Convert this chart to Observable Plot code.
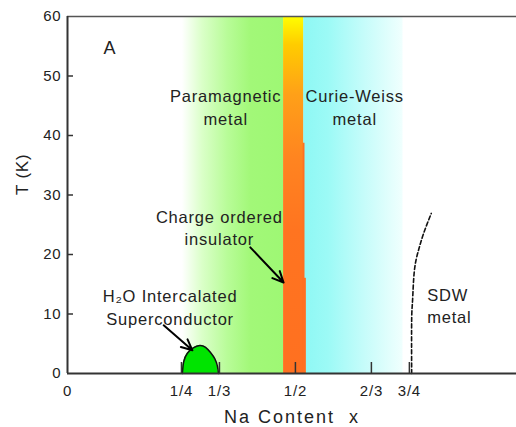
<!DOCTYPE html>
<html>
<head>
<meta charset="utf-8">
<script src="https://cdn.jsdelivr.net/npm/d3@7"></script>
<script src="https://cdn.jsdelivr.net/npm/@observablehq/plot@0.6"></script>
<style>
  html, body { margin: 0; padding: 0; background: white; }
</style>
</head>
<body>
<div id="chart"></div>
<script>
// ---- data ----
const xTicks = [0, 1/4, 1/3, 1/2, 2/3, 3/4];
const xTickLabels = ["0", "1/4", "1/3", "1/2", "2/3", "3/4"];
const xTickMarks = [1/4, 1/3, 1/2, 2/3, 3/4];
const yTicks = [0, 10, 20, 30, 40, 50, 60];
const yTickMarks = [10, 20, 30, 40, 50];

// phase regions (Na content x, temperature T)
const regionName = ["Paramagnetic", "Curie-Weiss", "Charge ordered", "CO step 1", "CO step 2"];
const regionX1 = [0.252, 0.518, 0.474, 0.517, 0.517];
const regionX2 = [0.474, 0.736, 0.518, 0.521, 0.524];
const regionT1 = [0, 0, 0, 0, 0];
const regionT2 = [60, 60, 60, 38.7, 16];
const regionFill = ["url(#gPara)", "url(#gCW)", "url(#gCO)", "#ff7020", "#ff7020"];

// superconducting dome
const domeX = [0.252, 0.255, 0.263, 0.276, 0.290, 0.303, 0.314, 0.323, 0.329, 0.331];
const domeT = [0, 2.0, 3.4, 4.3, 4.7, 4.4, 3.5, 2.5, 1.2, 0];

// SDW boundary (dashed)
const sdwX = [0.755, 0.755, 0.757, 0.761, 0.770, 0.781, 0.798];
const sdwT = [0, 8.9, 12.3, 17.3, 20.7, 23.5, 26.9];

// text labels
const labelText = ["Paramagnetic\nmetal", "Curie-Weiss\nmetal", "Charge ordered\ninsulator",
                   "H\u2082O Intercalated\nSuperconductor", "SDW\nmetal"];
const labelX = [0.347, 0.630, 0.333, 0.225, 0.789];
const labelT = [44.9, 44.9, 24.6, 11.3, 11.5];
const labelAnchor = ["middle", "middle", "middle", "middle", "start"];

// arrows
const arrowX1 = [0.401, 0.211];
const arrowT1 = [21.2, 8.1];
const arrowX2 = [0.474, 0.274];
const arrowT2 = [15.3, 3.9];

// ---- build tables ----
const regions = regionName.map((n, i) => ({n, x1: regionX1[i], x2: regionX2[i], t1: regionT1[i], t2: regionT2[i], fill: regionFill[i]}));
const dome = domeX.map((x, i) => ({x, t: domeT[i]}));
const sdw = sdwX.map((x, i) => ({x, t: sdwT[i]}));
const labels = labelText.map((s, i) => ({s, x: labelX[i], t: labelT[i], a: labelAnchor[i]}));
const arrows = arrowX1.map((x, i) => ({x1: x, t1: arrowT1[i], x2: arrowX2[i], t2: arrowT2[i]}));

const W = 516, H = 427, ML = 67, MR = 0, MT = 16, MB = 54;
const axisColor = "#333";

const svg = Plot.plot({
  width: W, height: H,
  marginLeft: ML, marginRight: MR, marginTop: MT, marginBottom: MB,
  style: {fontFamily: "'Liberation Sans', Arial, sans-serif", fontSize: "16px", color: "#222", background: "white", overflow: "visible"},
  x: {domain: [0, 0.985], axis: null},
  y: {domain: [0, 60], axis: null},
  marks: [
    ...regions.map(r => Plot.rect([r], {x1: "x1", x2: "x2", y1: "t1", y2: "t2", fill: r.fill})),
    Plot.areaY(dome, {x: "x", y: "t", curve: "natural", fill: "#00e400"}),
    Plot.line(dome, {x: "x", y: "t", curve: "natural", stroke: "#111", strokeWidth: 1.5}),
    Plot.line(sdw, {x: "x", y: "t", curve: "natural", stroke: "#111", strokeWidth: 1.6, strokeDasharray: "4,2.5"}),
    // frame
    Plot.ruleY([0], {stroke: axisColor, strokeWidth: 2}),
    Plot.ruleY([60], {stroke: "#555", strokeWidth: 1.5}),
    Plot.ruleX([0], {y1: 0, y2: 60, stroke: axisColor, strokeWidth: 2}),
    // ticks (inside)
    Plot.tickX(xTickMarks, {x: d => d, insetTop: (H - MT - MB) - 11, stroke: axisColor, strokeWidth: 1.5}),
    Plot.tickY(yTickMarks, {y: d => d, insetRight: (W - ML - MR) - 6, stroke: axisColor, strokeWidth: 1.5}),
    // tick labels
    Plot.text(xTicks, {x: d => d, frameAnchor: "bottom", dy: 18, text: (d, i) => xTickLabels[i], fontSize: 15, fill: "#222", lineAnchor: "middle"}),
    Plot.text(yTicks, {y: d => d, frameAnchor: "left", dx: -6, text: d => String(d), textAnchor: "end", fontSize: 15, fill: "#222", lineAnchor: "middle"}),
    // axis titles
    Plot.text(["T (K)"], {frameAnchor: "left", dx: -45, rotate: -90, text: d => d, fontSize: 17, fill: "#222", lineAnchor: "middle"}),
    Plot.text(["Na Content\u00a0\u00a0x"], {frameAnchor: "bottom", dy: 44, text: d => d, fontSize: 18, fill: "#222", lineAnchor: "middle"}),
    // panel letter
    Plot.text(["A"], {frameAnchor: "top-left", dx: 36, dy: 32, text: d => d, fontSize: 18, fill: "#222", lineAnchor: "middle"}),
    // region labels
    ...labels.map(l => Plot.text([l], {x: "x", y: "t", text: "s", textAnchor: l.a, fontSize: 16.5, lineHeight: 1.35, fill: "#222", lineAnchor: "middle"})),
    // arrows
    Plot.arrow(arrows, {x1: "x1", y1: "t1", x2: "x2", y2: "t2", stroke: "#000", strokeWidth: 2, headLength: 9, headAngle: 50})
  ]
});

// gradients
const s = d3.select(svg);
const defs = s.insert("defs", ":first-child");
function grad(id, x2, y2, stops) {
  const g = defs.append("linearGradient").attr("id", id)
    .attr("x1", 0).attr("y1", 0).attr("x2", x2).attr("y2", y2);
  stops.forEach(([o, c]) => g.append("stop").attr("offset", o).attr("stop-color", c));
}
grad("gPara", 1, 0, [[0, "#ffffff"], [0.2, "#daffc8"], [0.45, "#b8fc98"], [0.68, "#a2f878"], [1, "#9ef874"]]);
grad("gCW", 1, 0, [[0, "#8ef8f4"], [0.25, "#9cfaf6"], [0.6, "#c4fcfa"], [1, "#f0fffe"]]);
grad("gCO", 0, 1, [[0, "#ffff00"], [0.08, "#ffcc00"], [0.22, "#ffa018"], [0.4, "#ff8420"], [0.6, "#ff7420"], [1, "#ff7020"]]);

s.selectAll("text").attr("letter-spacing", 0.8);
s.selectAll("text").filter(function() { return this.textContent.startsWith("Na Content"); }).attr("letter-spacing", 2);

document.getElementById("chart").appendChild(svg);
</script>
</body>
</html>
